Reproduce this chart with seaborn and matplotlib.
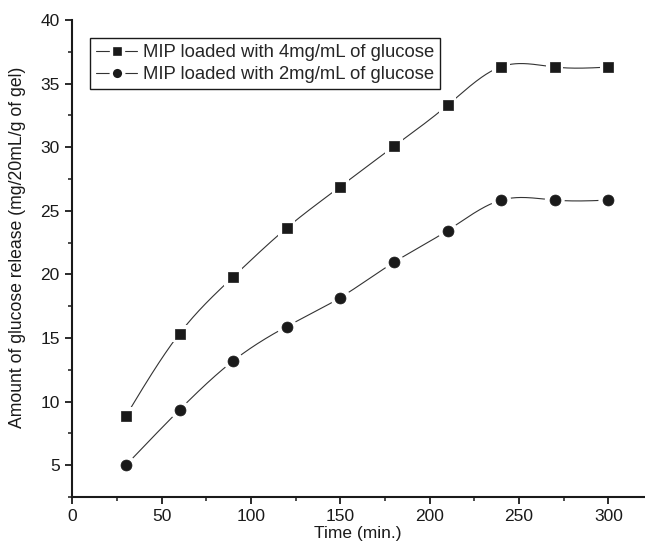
import numpy as np
import pandas as pd
import seaborn as sns
import matplotlib
matplotlib.use("Agg")
import matplotlib.pyplot as plt
from matplotlib.lines import Line2D
from matplotlib.ticker import MultipleLocator

# ---- data ----
time_min = [30, 60, 90, 120, 150, 180, 210, 240, 270, 300]
release_4mg = [8.87, 15.35, 19.8, 23.65, 26.9, 30.07, 33.3, 36.33, 36.3, 36.3]
release_2mg = [5.0, 9.35, 13.2, 15.9, 18.18, 20.95, 23.45, 25.84, 25.84, 25.84]
series_names = ["MIP loaded with 4mg/mL of glucose", "MIP loaded with 2mg/mL of glucose"]
x_ticks = [0, 50, 100, 150, 200, 250, 300]
y_ticks = [5, 10, 15, 20, 25, 30, 35, 40]


def natural_spline(x, y, n=60):
    """Smooth connecting curve (Origin-style spline) through the data points."""
    x = np.asarray(x, float)
    y = np.asarray(y, float)
    k = len(x)
    h = np.diff(x)
    A = np.zeros((k, k))
    r = np.zeros(k)
    A[0, 0] = A[-1, -1] = 1
    for i in range(1, k - 1):
        A[i, i - 1] = h[i - 1]
        A[i, i] = 2 * (h[i - 1] + h[i])
        A[i, i + 1] = h[i]
        r[i] = 6 * ((y[i + 1] - y[i]) / h[i] - (y[i] - y[i - 1]) / h[i - 1])
    M = np.linalg.solve(A, r)
    xs, ys = [], []
    for i in range(k - 1):
        t = np.linspace(x[i], x[i + 1], n, endpoint=(i == k - 2))
        a = x[i + 1] - t
        b = t - x[i]
        s = (M[i] * a ** 3 + M[i + 1] * b ** 3) / (6 * h[i]) \
            + (y[i] / h[i] - M[i] * h[i] / 6) * a \
            + (y[i + 1] / h[i] - M[i + 1] * h[i] / 6) * b
        xs.append(t)
        ys.append(s)
    return np.concatenate(xs), np.concatenate(ys)


sns.set_theme(style="ticks")
plt.rcParams["font.family"] = ["Liberation Sans", "DejaVu Sans"]

fig = plt.figure(figsize=(6.45, 5.48), dpi=100)
ax = fig.add_axes([0.1121, 0.0931, 0.8865, 0.8704])

markers = ["s", "o"]
msizes = [48, 62]
for vals, mk, ms in zip([release_4mg, release_2mg], markers, msizes):
    cx, cy = natural_spline(time_min, vals)
    sns.lineplot(x=cx, y=cy, ax=ax, color="#333333", linewidth=0.8,
                 sort=False, estimator=None, zorder=2)
    df = pd.DataFrame({"t": time_min, "v": vals})
    sns.scatterplot(data=df, x="t", y="v", ax=ax, marker=mk, s=ms * 3.3,
                    color="white", edgecolor="none", linewidth=0, zorder=3)
    sns.scatterplot(data=df, x="t", y="v", ax=ax, marker=mk, s=ms,
                    color="#1a1a1a", edgecolor="#1a1a1a", linewidth=0.5, zorder=4)

ax.set_xlim(0, 320)
ax.set_ylim(2.5, 40)
ax.set_xticks(x_ticks)
ax.set_yticks(y_ticks)
ax.xaxis.set_minor_locator(MultipleLocator(25))
ax.yaxis.set_minor_locator(MultipleLocator(2.5))
ax.tick_params(axis="both", which="major", direction="out", length=5, width=1.3,
               labelsize=12.5, colors="#1a1a1a", pad=4)
ax.tick_params(axis="both", which="minor", direction="out", length=3, width=1.1,
               colors="#1a1a1a")
for side in ["top", "right"]:
    ax.spines[side].set_visible(False)
for side in ["left", "bottom"]:
    ax.spines[side].set_linewidth(1.5)
    ax.spines[side].set_color("#1a1a1a")

ax.set_xlabel("Time (min.)", fontsize=12.5, color="#1a1a1a", labelpad=1)
ax.set_ylabel("Amount of glucose release (mg/20mL/g of gel)", fontsize=12.7,
              color="#1a1a1a")
ax.yaxis.set_label_coords(-0.081, 0.523)

handles = [
    Line2D([0], [0], color="#333333", lw=0.8, marker="s", markersize=8.0,
           markerfacecolor="#1a1a1a", markeredgecolor="white",
           markeredgewidth=2.4),
    Line2D([0], [0], color="#333333", lw=0.8, marker="o", markersize=9.0,
           markerfacecolor="#1a1a1a", markeredgecolor="white",
           markeredgewidth=2.4),
]
leg = ax.legend(handles, series_names, loc="upper left",
                bbox_to_anchor=(0.031, 0.9625), fontsize=13.3, frameon=True,
                fancybox=False, edgecolor="#1a1a1a", framealpha=1,
                handlelength=2.2, handletextpad=0.3, borderpad=0.35,
                labelspacing=0.25, borderaxespad=0)
leg.get_frame().set_linewidth(1.0)

fig.savefig("out.png", dpi=100)
